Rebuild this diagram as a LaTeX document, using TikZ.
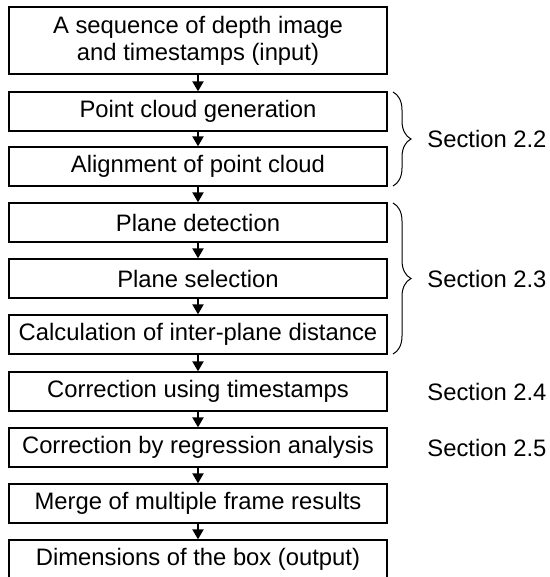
\documentclass[tikz,border=0pt]{standalone}
\usepackage{fontspec}
\setmainfont{Liberation Sans}
\usetikzlibrary{arrows.meta,decorations.pathreplacing}

\begin{document}
\begin{tikzpicture}[x=0.5pt,y=-0.5pt,
	stage/.style={draw,line width=0.65pt,minimum width=189pt,minimum height=19.5pt,inner sep=0pt,align=center,font=\fontsize{11.9}{13.5}\selectfont},
	flow/.style={-{Triangle[width=5.5pt,length=5pt]},line width=1pt},
	sect/.style={anchor=west,inner sep=0pt,font=\fontsize{11.9}{13.5}\selectfont}]
		\useasboundingbox (0,0) rectangle (550,577);

		\node (input) at (198,40.5) [stage,minimum height=33.5pt] {A sequence of depth image\\and timestamps (input)};
		\node (cloud) at (198,111.5) [stage] {Point cloud generation};
		\node (align) at (198,166.5) [stage] {Alignment of point cloud};
		\node (detect) at (198,222.5) [stage] {Plane detection};
		\node (select) at (198,278.5) [stage] {Plane selection};
		\node (dist) at (198,334.5) [stage] {Calculation of inter-plane distance};
		\node (stamps) at (198,391.5) [stage] {Correction using timestamps};
		\node (regr) at (198,447.5) [stage] {Correction by regression analysis};
		\node (merge) at (198,503.5) [stage] {Merge of multiple frame results};
		\node (output) at (198,559.5) [stage] {Dimensions of the box (output)};

		\draw [flow] (input) -- (cloud);
		\draw [flow] (cloud) -- (align);
		\draw [flow] (align) -- (detect);
		\draw [flow] (detect) -- (select);
		\draw [flow] (select) -- (dist);
		\draw [flow] (dist) -- (stamps);
		\draw [flow] (stamps) -- (regr);
		\draw [flow] (regr) -- (merge);
		\draw [flow] (merge) -- (output);

		\coordinate (b1top) at (393,92);
		\coordinate (b1bot) at (393,186);
		\coordinate (b2top) at (393,203);
		\coordinate (b2bot) at (393,354);

		\draw [decorate,decoration={brace,amplitude=9pt},line width=0.5pt]
		(b1top) -- (b1bot);
		\draw [decorate,decoration={brace,amplitude=9pt},line width=0.5pt]
		(b2top) -- (b2bot);

		\node (sec22) at (427,139) [sect] {Section 2.2};
		\node (sec23) at (427,278.5) [sect] {Section 2.3};
		\node (sec24) at (427,391.5) [sect] {Section 2.4};
		\node (sec25) at (427,447.5) [sect] {Section 2.5};

		%\draw [decorate,decoration={brace,amplitude=9pt}] (393,372) -- (393,467);
	\end{tikzpicture}
\end{document}
